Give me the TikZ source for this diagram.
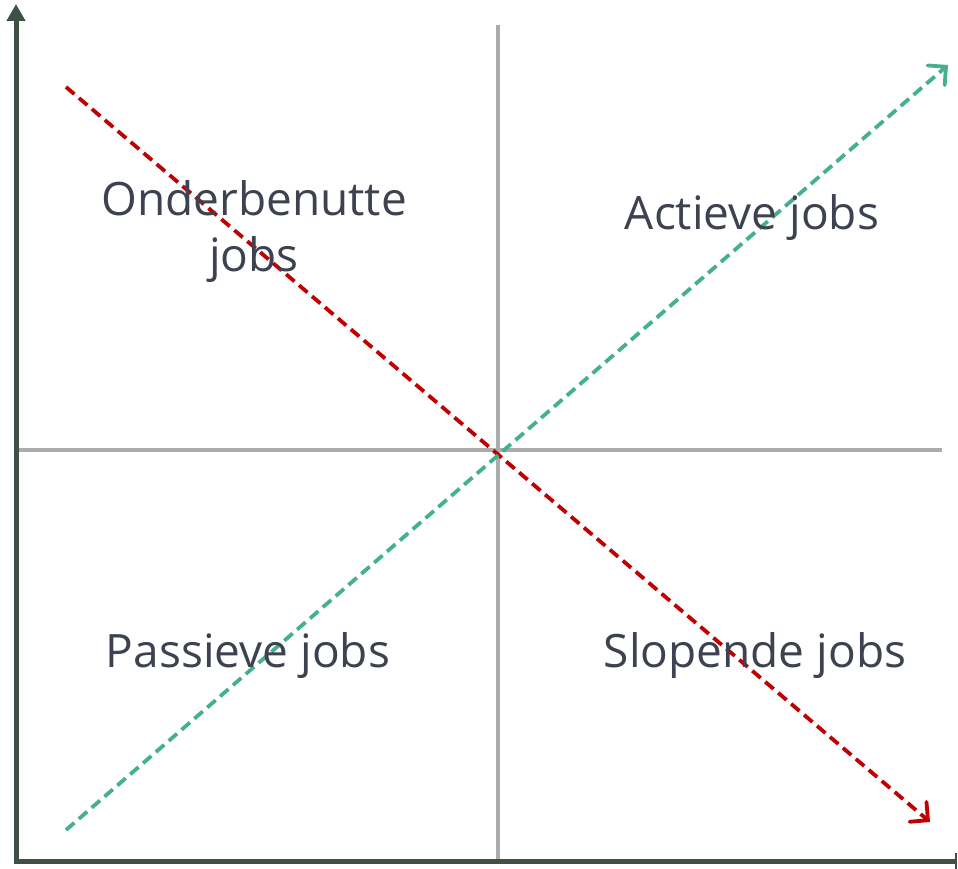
\documentclass[tikz,border=0pt]{standalone}
\usepackage{fontspec}
\setmainfont{Open Sans}
\usetikzlibrary{arrows.meta}
\definecolor{axisgreen}{HTML}{3F5045}
\definecolor{textgray}{HTML}{3D4250}
\definecolor{linegray}{HTML}{ABABAB}
\definecolor{darkred}{HTML}{C00000}
\definecolor{teal}{HTML}{45B08C}
\begin{document}
\begin{tikzpicture}[x=1pt, y=-1pt,
  quad/.style={text=textgray, font=\fontsize{46}{56}\selectfont, align=center},
  trend/.style={line width=3.8pt, dash pattern=on 11pt off 6pt, -{Straight Barb[length=13pt, width=26pt, line cap=round]}}]
  \useasboundingbox (0,0) rectangle (958,869);
  \coordinate (O) at (16,861);
  \coordinate (ytop) at (16,4);
  \coordinate (xend) at (957,861);
  \coordinate (vtop) at (498,25);
  \coordinate (vbot) at (498,862);
  \coordinate (hl) at (18,450);
  \coordinate (hr) at (942,450);
  \coordinate (r1) at (66,87);
  \coordinate (r2) at (930,822);
  \coordinate (g1) at (66,830);
  \coordinate (g2) at (948,65);
  \draw[linegray, line width=3.6pt] (vtop) -- (vbot);
  \draw[linegray, line width=3.6pt] (hl) -- (hr);
  \draw[axisgreen, line width=5pt, -{Triangle[width=18pt, length=17pt]}] (O) -- (ytop);
  \draw[axisgreen, line width=5pt, -{Bar[width=16pt, line width=2.5pt]}] ([xshift=-2.5pt]O) -- (xend);
  \draw[trend, darkred] (r1) -- (r2);
  \draw[trend, teal] (g1) -- (g2);
  \node[quad] (onder) at (254,232) {Onderbenutte\\jobs};
  \node[quad] (actief) at (752,218) {Actieve jobs};
  \node[quad] (passief) at (248,656) {Passieve jobs};
  \node[quad] (sloop) at (755,656) {Slopende jobs};
\end{tikzpicture}
\end{document}
